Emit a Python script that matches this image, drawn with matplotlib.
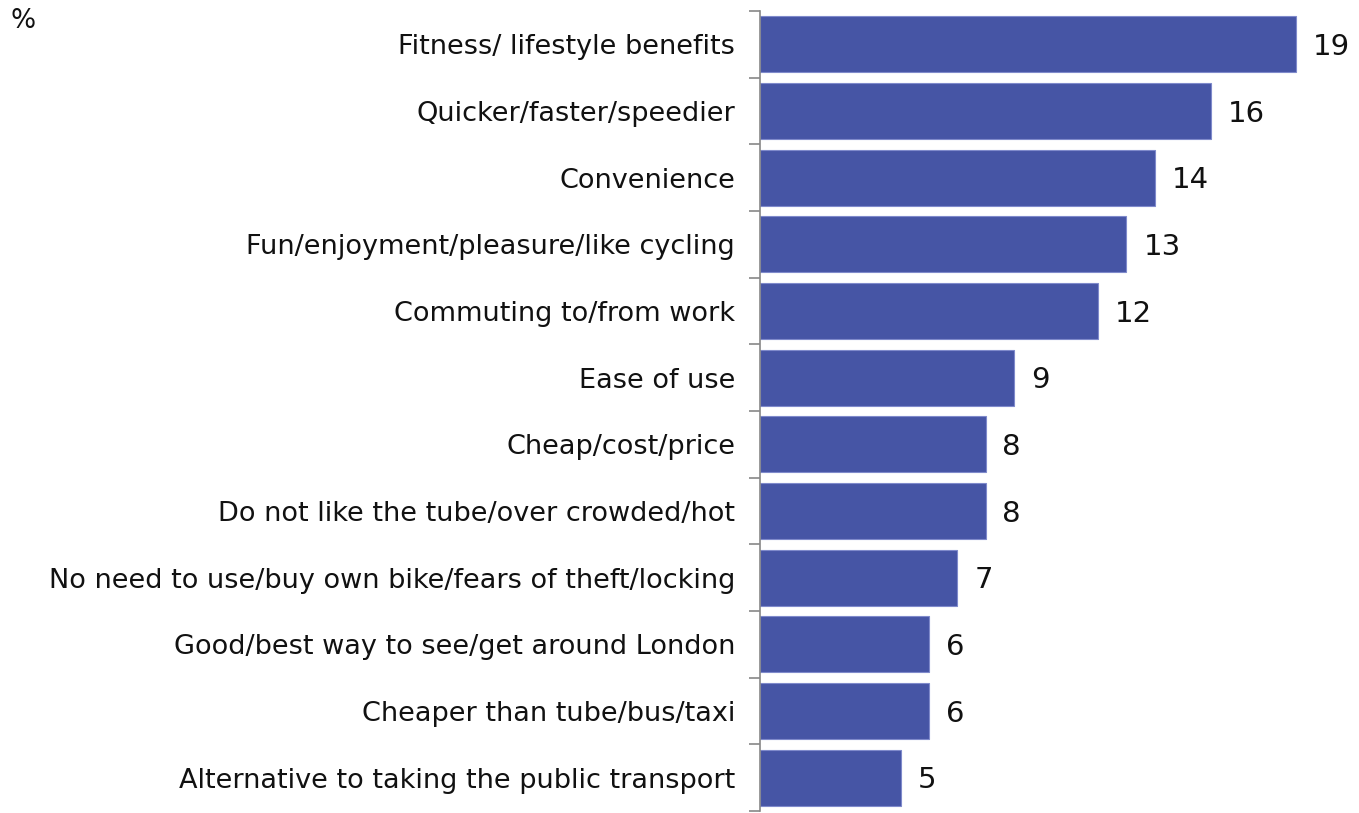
import matplotlib
matplotlib.use("Agg")
import matplotlib.pyplot as plt
import numpy as np

# --- DATA ---
categories = [
    "Fitness/ lifestyle benefits",
    "Quicker/faster/speedier",
    "Convenience",
    "Fun/enjoyment/pleasure/like cycling",
    "Commuting to/from work",
    "Ease of use",
    "Cheap/cost/price",
    "Do not like the tube/over crowded/hot",
    "No need to use/buy own bike/fears of theft/locking",
    "Good/best way to see/get around London",
    "Cheaper than tube/bus/taxi",
    "Alternative to taking the public transport",
]
values = [19, 16, 14, 13, 12, 9, 8, 8, 7, 6, 6, 5]

BAR_COLOR = "#4655A5"
EDGE_COLOR = "#7F8ACB"

fig = plt.figure(figsize=(13.59, 8.13), dpi=100)
ax = fig.add_axes([760 / 1359, 2 / 813, 592 / 1359, 800 / 813])

y = np.arange(len(categories))
ax.barh(y, values, height=0.84, color=BAR_COLOR, edgecolor=EDGE_COLOR, linewidth=0.8)

ax.set_ylim(len(categories) - 0.5, -0.5)
ax.set_xlim(0, 21)

# category labels
ax.set_yticks(y)
ax.set_yticklabels(categories, fontsize=19.5, color="#111111")
ax.tick_params(axis="y", which="major", length=0, pad=18)
# boundary ticks on the spine
ax.set_yticks(np.arange(-0.5, len(categories), 1.0), minor=True)
ax.tick_params(axis="y", which="minor", length=8, width=1.2, color="#888888")

ax.set_xticks([])
for side in ["top", "right", "bottom"]:
    ax.spines[side].set_visible(False)
ax.spines["left"].set_color("#888888")
ax.spines["left"].set_linewidth(1.2)

# value labels
for yi, v in zip(y, values):
    ax.text(v + 0.6, yi + 0.04, str(v), va="center", ha="left", fontsize=21, color="#111111")

fig.text(10 / 1359, 1 - 21 / 813, "%", fontsize=19, color="#111111", va="center", ha="left")

fig.savefig("out.png", dpi=100)
